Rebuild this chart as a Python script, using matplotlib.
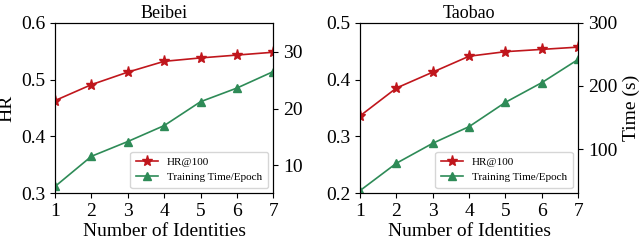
import matplotlib
matplotlib.use('Agg')
import matplotlib.pyplot as plt

plt.rcParams['font.family'] = ['Liberation Serif', 'DejaVu Serif']

identities = [1, 2, 3, 4, 5, 6, 7]

# Beibei
beibei_hr   = [0.463, 0.491, 0.513, 0.532, 0.538, 0.543, 0.548]
beibei_time = [6.3, 11.6, 14.2, 17.0, 21.2, 23.6, 26.5]

# Taobao
taobao_hr   = [0.336, 0.385, 0.413, 0.441, 0.449, 0.453, 0.457]
taobao_time = [34.7, 77.9, 109.5, 135.8, 174.2, 205.3, 242.0]

RED = "#c0161c"
GREEN = "#2e8b57"

fig = plt.figure(figsize=(6.4, 2.41), dpi=100)

panels = [
    ("Beibei", beibei_hr, beibei_time, (0.3, 0.6), [0.3, 0.4, 0.5, 0.6],
     (5.1, 35.1), [10, 20, 30], 0.086, "HR", None),
    ("Taobao", taobao_hr, taobao_time, (0.2, 0.5), [0.2, 0.3, 0.4, 0.5],
     (30.5, 300), [100, 200, 300], 0.5625, None, "Time (s)"),
]

for title, hr, tm, ylim, yticks, ylim2, yticks2, left, ylab, ylab2 in panels:
    ax = fig.add_axes([left, 0.198, 0.341, 0.708])
    ax2 = ax.twinx()
    l1, = ax.plot(identities, hr, color=RED, lw=1.2, marker='*', ms=8,
                  label="HR@100")
    l2, = ax2.plot(identities, tm, color=GREEN, lw=1.2, marker='^', ms=6,
                   label="Training Time/Epoch")
    ax.set_xlim(1, 7)
    ax.set_xticks(identities)
    ax.set_ylim(*ylim)
    ax.set_yticks(yticks)
    ax.set_yticklabels([f"{v:.1f}" for v in yticks])
    ax2.set_ylim(*ylim2)
    ax2.set_yticks(yticks2)
    ax.tick_params(labelsize=14)
    ax2.tick_params(labelsize=14)
    ax.set_title(title, fontsize=13, pad=3)
    ax.set_xlabel("Number of Identities", fontsize=14, labelpad=2)
    if ylab:
        ax.set_ylabel(ylab, fontsize=14, labelpad=4)
    if ylab2:
        ax2.set_ylabel(ylab2, fontsize=14, labelpad=4)
    ax2.legend([l1, l2], [l1.get_label(), l2.get_label()], loc='lower right',
               fontsize=8, frameon=True, fancybox=True, borderpad=0.5)

fig.savefig("out.png", dpi=100)
